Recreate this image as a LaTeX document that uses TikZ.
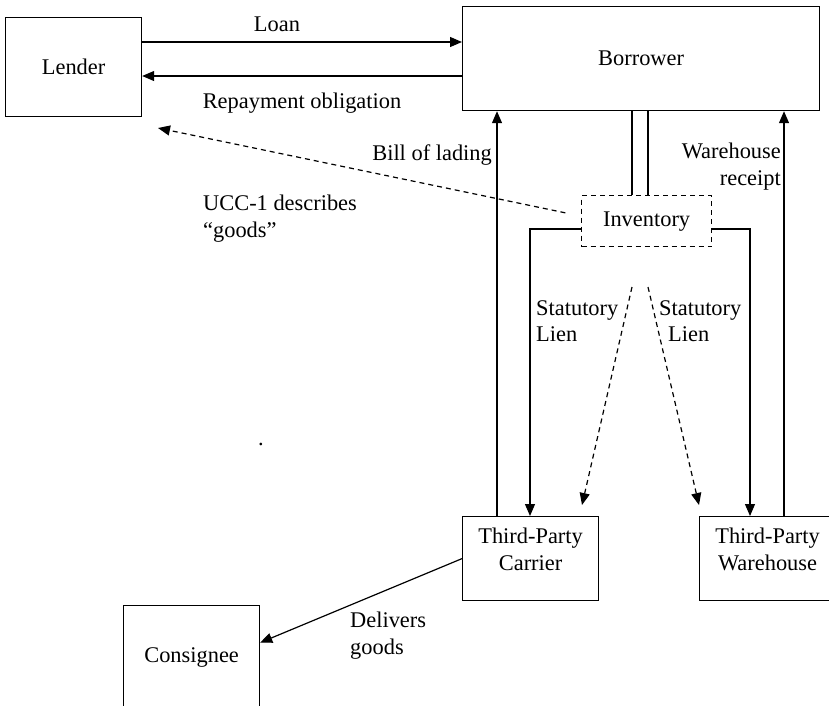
\documentclass[tikz,border=0pt]{standalone}
\usepackage{fontspec}
\setmainfont{Liberation Serif}
\usetikzlibrary{arrows.meta}
\begin{document}
\begin{tikzpicture}[x=1pt,y=-1pt,
  every node/.style={font=\fontsize{22.4}{26.5}\selectfont},
  box/.style={draw, line width=1.2pt, rectangle, inner sep=0pt, anchor=north west},
  lbl/.style={inner sep=0pt},
  ln/.style={line width=1.2pt},
  arr/.style={line width=1.2pt, -{Triangle[length=12pt,width=10pt]}},
  dasharr/.style={line width=1.2pt, dash pattern=on 5pt off 4pt, -{Triangle[length=12pt,width=10pt]}}]
\useasboundingbox (0,0) rectangle (829,705);
\clip (0,0) rectangle (829,705);
% boxes
\node[box, minimum width=136pt, minimum height=99pt] (lender) at (5,17) {Lender};
\node[box, minimum width=357pt, minimum height=104pt] (borrower) at (462,6) {Borrower};
\node[box, dash pattern=on 5pt off 4pt, minimum width=130pt, minimum height=51pt] (inventory) at (581,195) {Inventory};
\node[box, minimum width=136pt, minimum height=84pt,
  label={[lbl, align=center, anchor=north, yshift=-12pt]north:Third-Party\\Carrier}] (carrier) at (462,516) {};
\node[box, minimum width=136pt, minimum height=84pt,
  label={[lbl, align=center, anchor=north, yshift=-12pt]north:Third-Party\\Warehouse}] (warehouse) at (699,516) {};
\node[box, minimum width=136pt, minimum height=103pt] (consignee) at (123,605) {Consignee};
% helper coordinates
\coordinate (loanY) at (0,42);
\coordinate (repY) at (0,76);
\coordinate (billX) at (497,0);
\coordinate (recX) at (784,0);
\coordinate (dl1X) at (632,0);
\coordinate (dl2X) at (648,0);
\coordinate (invY) at (0,229);
\coordinate (leftX) at (530,0);
\coordinate (rightX) at (750,0);
\coordinate (uccEnd) at (158,128);
\coordinate (l1s) at (632,287);
\coordinate (l1e) at (582,505);
\coordinate (l2s) at (648,287);
\coordinate (l2e) at (699,505);
% connectors
\draw[arr] (lender.east |- loanY) -- (borrower.west |- loanY);
\draw[arr] (borrower.west |- repY) -- (lender.east |- repY);
\draw[arr] (carrier.north -| billX) -- (borrower.south -| billX);
\draw[arr] (warehouse.north -| recX) -- (borrower.south -| recX);
\draw[ln] (borrower.south -| dl1X) -- (inventory.north -| dl1X);
\draw[ln] (borrower.south -| dl2X) -- (inventory.north -| dl2X);
\draw[arr] (inventory.west |- invY) -| (carrier.north -| leftX);
\draw[arr] (inventory.east |- invY) -| (warehouse.north -| rightX);
\draw[dasharr, shorten <=16pt] ([yshift=5pt]inventory.west) -- (uccEnd);
\draw[dasharr] (l1s) -- (l1e);
\draw[dasharr] (l2s) -- (l2e);
\draw[arr] (carrier.west) -- ([yshift=14.5pt]consignee.east);
% labels
\node[lbl, anchor=north] (loanlbl) at (277,17) {Loan};
\node[lbl, anchor=north] (replbl) at (302,93) {Repayment obligation};
\node[lbl, anchor=north east] (billlbl) at (492,145) {Bill of lading};
\node[lbl, anchor=north east, align=right] (reclbl) at (781,143) {Warehouse\\receipt};
\node[lbl, anchor=north west, align=left] (ucclbl) at (203,195) {UCC-1 describes\\“goods”};
\node[lbl, anchor=north west, align=left] (lien1) at (536,300) {Statutory\\Lien};
\node[lbl, anchor=north west, align=left] (lien2) at (659,300) {Statutory\\\hspace*{9pt}Lien};
\node[lbl, anchor=north west, align=left] (dellbl) at (350,612) {Delivers\\goods};
\node[lbl, anchor=base west] (dot) at (258,445.5) {.};
\end{tikzpicture}
\end{document}
